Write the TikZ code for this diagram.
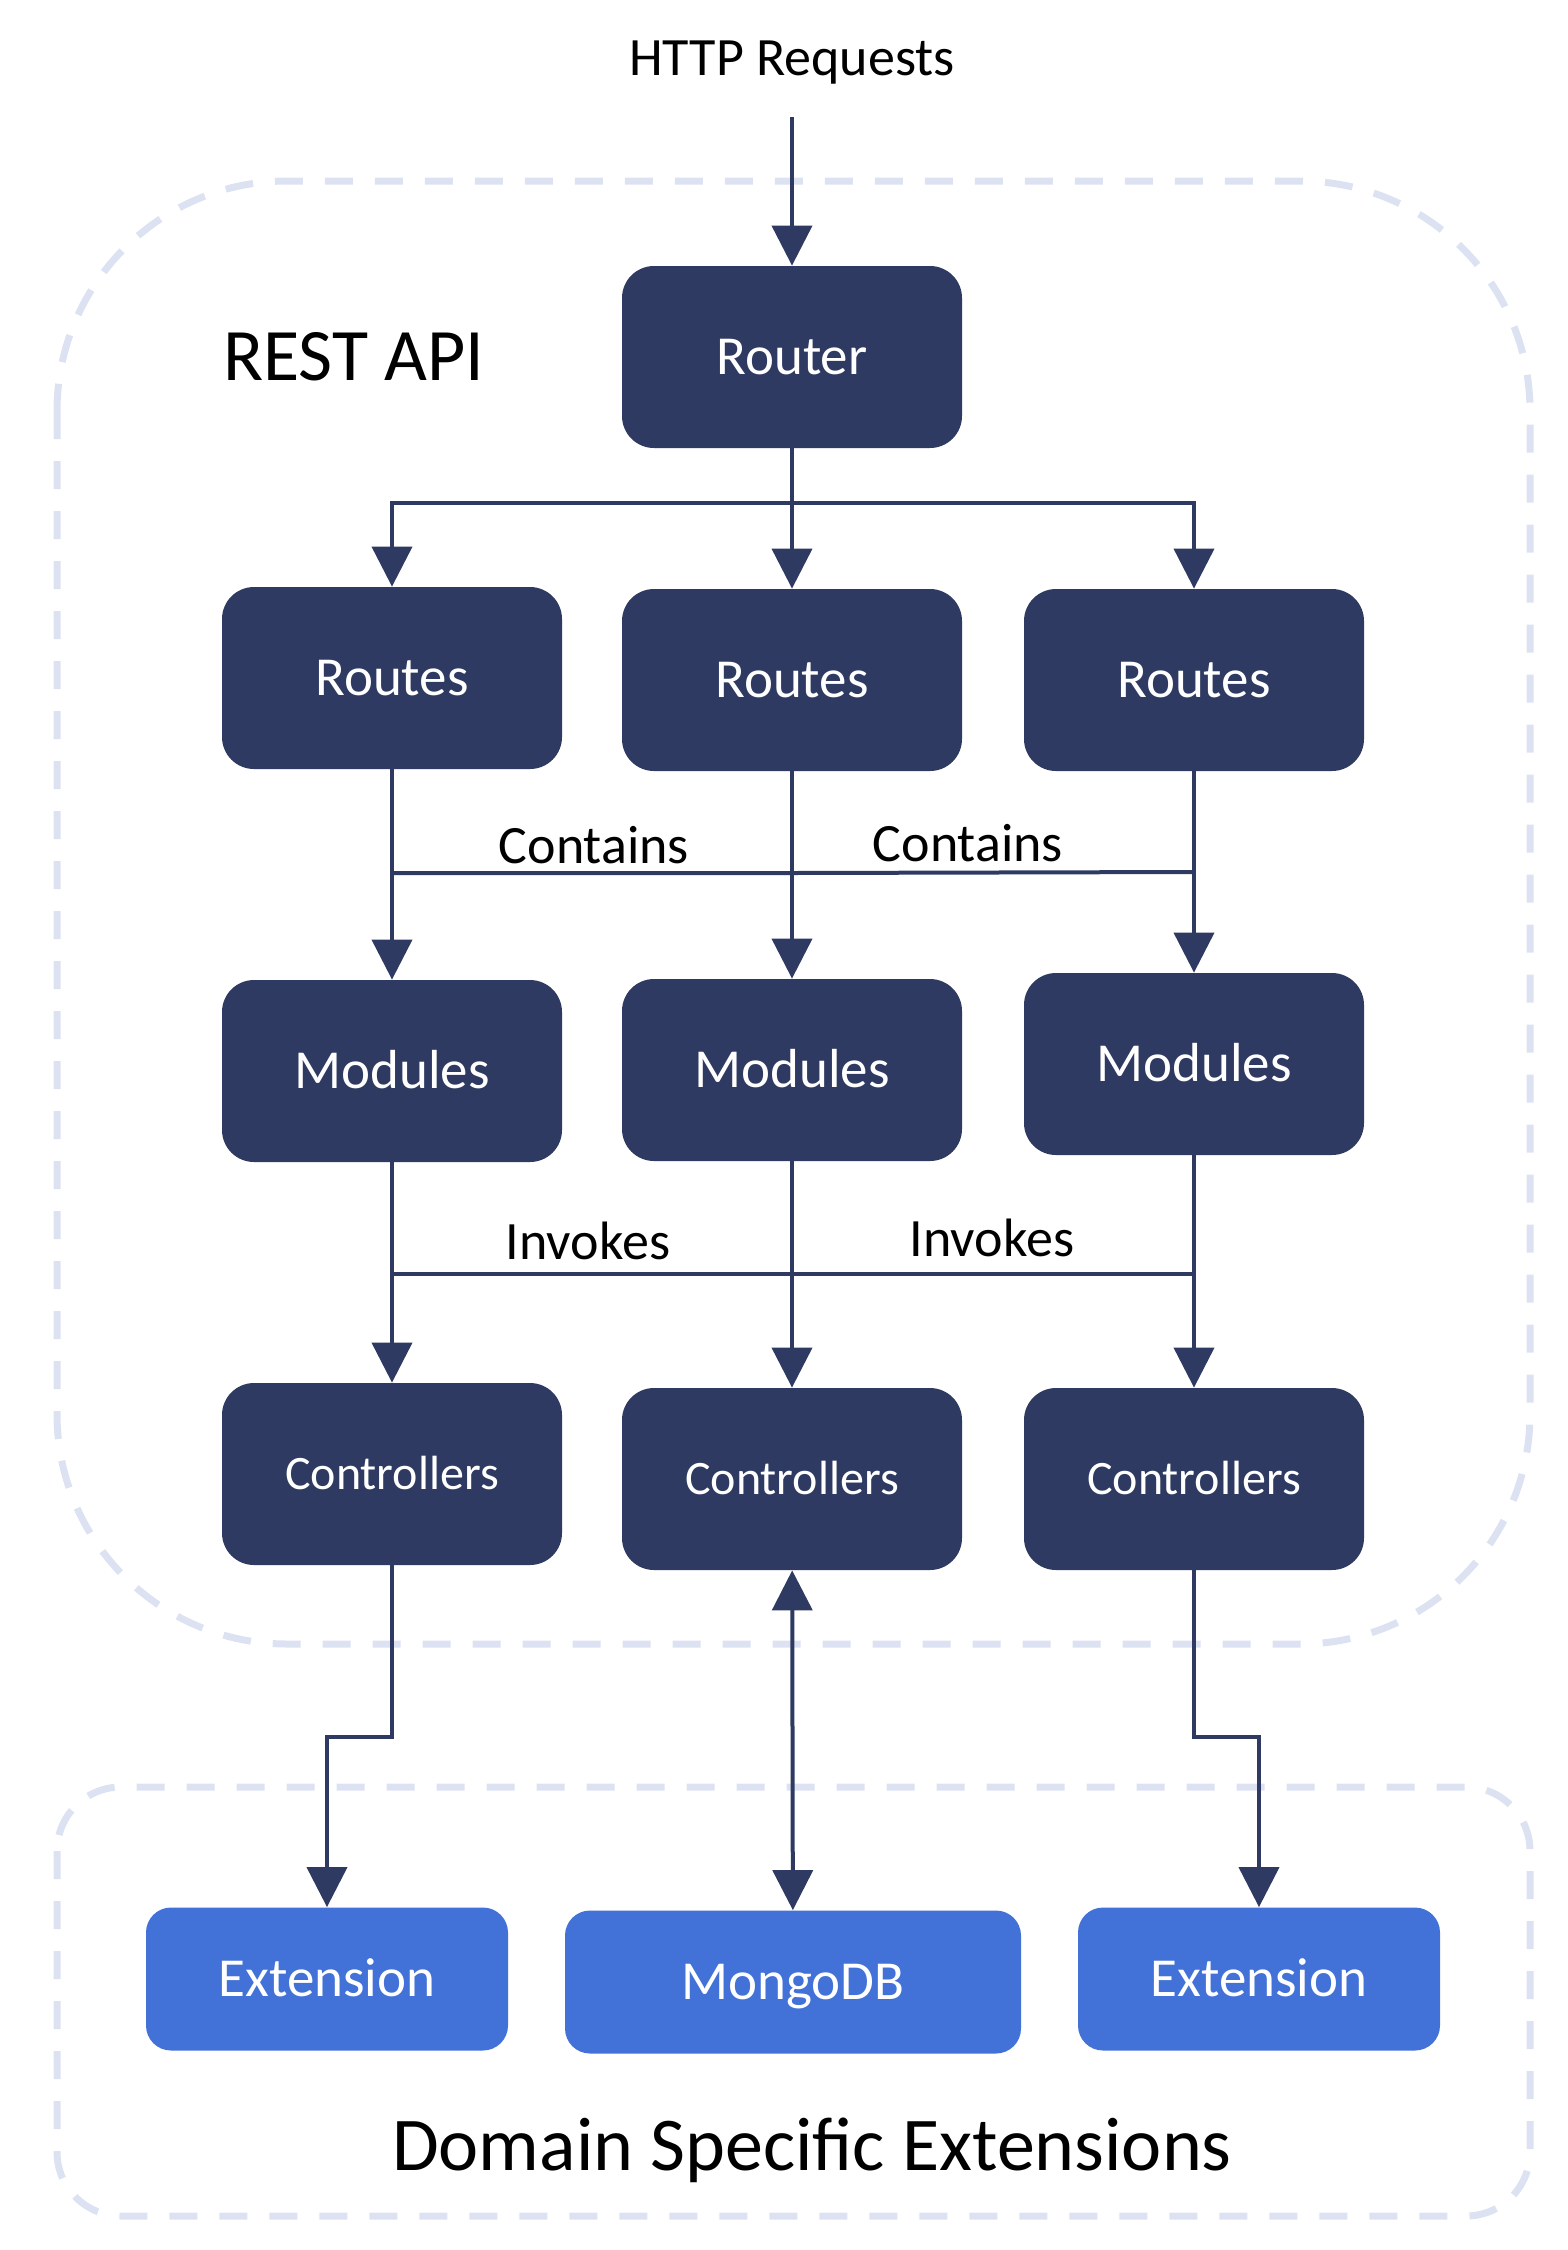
\documentclass[tikz,border=0pt]{standalone}
\usepackage{fontspec}
\setmainfont{Carlito}
\usetikzlibrary{arrows.meta}
\definecolor{navy}{HTML}{2E3A61}
\definecolor{azure}{HTML}{4272D7}
\definecolor{haze}{HTML}{DDE2F2}

\begin{document}
\begin{tikzpicture}[x=0.5pt, y=-0.5pt]
\tikzstyle{tier_style} = [rectangle, rounded corners=16pt, fill=navy, text=white, minimum width=170pt, minimum height=91pt, inner sep=0pt, text height=17.6pt, text depth=0pt, font=\fontsize{27.5}{33}\selectfont]
\tikzstyle{ctrl_style} = [tier_style, text height=15.4pt, font=\fontsize{24}{29}\selectfont]
\tikzstyle{ext_style} = [rectangle, rounded corners=12.5pt, fill=azure, text=white, minimum width=181pt, minimum height=71.5pt, inner sep=0pt, text height=17.6pt, text depth=0pt, font=\fontsize{27.5}{33}\selectfont]
\tikzstyle{edge_style} = [draw=navy, line width=2pt, -{Triangle[length=20pt, width=20pt]}]
\tikzstyle{wire_style} = [draw=navy, line width=2pt]
\tikzstyle{zone_style} = [draw=haze, line width=3.5pt, dash pattern=on 14pt off 11pt]
\tikzstyle{label_style} = [font=\fontsize{27}{32}\selectfont, anchor=base]

\useasboundingbox (0,0) rectangle (1568,2250);

% dashed groups
\draw[zone_style, rounded corners=115pt] (57,181) rectangle (1530,1644);
\draw[zone_style, rounded corners=32pt] (57,1787) rectangle (1530,2216);

\node[label_style] (http) at (792,75) {HTTP Requests};
\node[label_style, anchor=base west, font=\fontsize{37}{44}\selectfont] (rest) at (216,380) {REST API};
\node[label_style, font=\fontsize{38}{46}\selectfont] (domain) at (812,2170) {Domain Specific Extensions};

\node[tier_style] (router) at (792,357) {Router};

\node[tier_style] (routesL) at (392,678) {Routes};
\node[tier_style] (routesM) at (792,680) {Routes};
\node[tier_style] (routesR) at (1194,680) {Routes};

\node[tier_style] (modulesL) at (392,1071) {Modules};
\node[tier_style] (modulesM) at (792,1070) {Modules};
\node[tier_style] (modulesR) at (1194,1064) {Modules};

\node[ctrl_style] (ctrlL) at (392,1474) {Controllers};
\node[ctrl_style] (ctrlM) at (792,1479) {Controllers};
\node[ctrl_style] (ctrlR) at (1194,1479) {Controllers};

\node[ext_style] (extL) at (327,1979) {Extension};
\node[ext_style, minimum width=228pt] (mongo) at (793,1982) {MongoDB};
\node[ext_style] (extR) at (1259,1979) {Extension};

\coordinate (entry) at (792,117);
\coordinate (split) at (792,503);
\coordinate (holdL) at (392,873);
\coordinate (holdM) at (792,873);
\coordinate (holdR) at (1194,872);
\coordinate (callL) at (392,1274);
\coordinate (callM) at (792,1274);
\coordinate (callR) at (1194,1274);
\coordinate (bendL) at (392,1737);
\coordinate (bendR) at (1194,1737);

\draw[edge_style] (entry) -- (router);
\draw[edge_style] (router) -- (routesM);
\draw[edge_style] (split) -| (routesL);
\draw[edge_style] (split) -| (routesR);

\draw[edge_style] (routesL) -- (modulesL);
\draw[edge_style] (routesM) -- (modulesM);
\draw[edge_style] (routesR) -- (modulesR);
\draw[wire_style] (holdL) -- (holdM) -- (holdR);
\node[label_style] at (594,863) {Contains};
\node[label_style] at (968,861) {Contains};

\draw[edge_style] (modulesL) -- (ctrlL);
\draw[edge_style] (modulesM) -- (ctrlM);
\draw[edge_style] (modulesR) -- (ctrlR);
\draw[wire_style] (callL) -- (callM) -- (callR);
\node[label_style] at (588,1259) {Invokes};
\node[label_style] at (992,1256) {Invokes};

\draw[edge_style] (ctrlL) -- (bendL) -| (extL);
\draw[edge_style, {Triangle[length=20pt, width=20pt]}-{Triangle[length=20pt, width=20pt]}] (ctrlM) -- (mongo);
\draw[edge_style] (ctrlR) -- (bendR) -| (extR);
\end{tikzpicture}
\end{document}
